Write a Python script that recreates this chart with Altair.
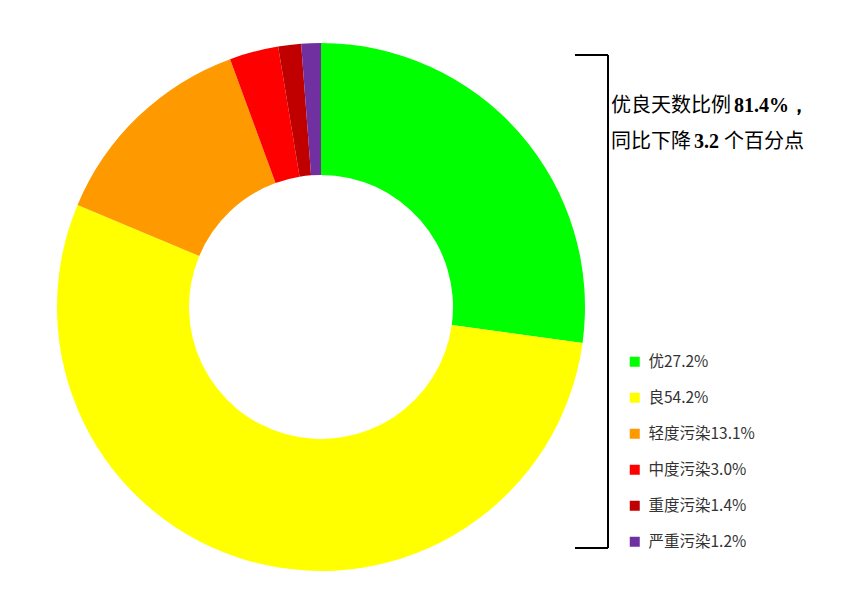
import altair as alt
import pandas as pd

names = ["优", "良", "轻度污染", "中度污染", "重度污染", "严重污染"]
shares = [27.2, 54.2, 13.1, 3.0, 1.4, 1.2]
colors = ["#00FF00", "#FFFF00", "#FF9900", "#FF0000", "#C00000", "#7030A0"]
labels = [f"{n}{v:.1f}%" for n, v in zip(names, shares)]

note1_a, note1_b = "优良天数比例", "81.4%，"
note2_a, note2_b, note2_c = "同比下降", "3.2", "个百分点"

df = pd.DataFrame({"label": labels, "share": shares, "order": list(range(len(labels)))})
one = pd.DataFrame({"k": [0]})

arc = alt.Chart(df).mark_arc(innerRadius=132, outerRadius=264).encode(
    theta=alt.Theta("share:Q", stack=True),
    order=alt.Order("order:Q"),
    color=alt.Color(
        "label:N",
        sort=labels,
        scale=alt.Scale(domain=labels, range=colors),
        legend=alt.Legend(
            title=None,
            orient="none",
            legendX=619,
            legendY=346,
            symbolType="square",
            symbolSize=100,
            symbolStrokeWidth=0,
            labelFontSize=15.5,
            labelFont="Noto Sans CJK SC",
            labelColor="#333333",
            labelOffset=6,
            rowPadding=19,
            padding=0,
        ),
    ),
    x=alt.value(313),
    y=alt.value(299),
)

rule_style = dict(color="black", strokeWidth=2)
r_top = alt.Chart(one).mark_rule(**rule_style).encode(x=alt.value(567), x2=alt.value(600), y=alt.value(47))
r_vert = alt.Chart(one).mark_rule(**rule_style).encode(x=alt.value(600), y=alt.value(47), y2=alt.value(540))
r_bot = alt.Chart(one).mark_rule(**rule_style).encode(x=alt.value(567), x2=alt.value(600), y=alt.value(540))

cjk = dict(font="Noto Sans CJK SC", fontSize=20, color="black", align="left", baseline="middle")
num = dict(font="Liberation Serif", fontSize=20, fontWeight="bold", color="black", align="left", baseline="middle")

t1a = alt.Chart(one).mark_text(text=note1_a, **cjk).encode(x=alt.value(603), y=alt.value(98))
t1b = alt.Chart(one).mark_text(text=note1_b, **num).encode(x=alt.value(726), y=alt.value(98))
t2a = alt.Chart(one).mark_text(text=note2_a, **cjk).encode(x=alt.value(603), y=alt.value(134))
t2b = alt.Chart(one).mark_text(text=note2_b, **num).encode(x=alt.value(686), y=alt.value(134))
t2c = alt.Chart(one).mark_text(text=note2_c, **cjk).encode(x=alt.value(716), y=alt.value(134))

chart = alt.layer(arc, r_top, r_vert, r_bot, t1a, t1b, t2a, t2b, t2c).properties(
    width=836, height=582, autosize="none", padding=0
).configure_view(strokeWidth=0)

chart.save("out.html", embed_options={"renderer": "svg", "actions": False})
